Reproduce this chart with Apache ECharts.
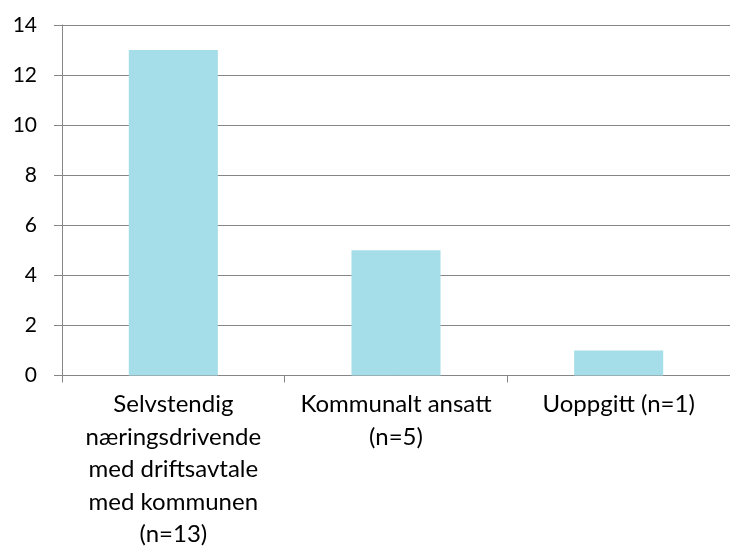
<!DOCTYPE html>
<html>
<head>
<meta charset="utf-8">
<script src="https://cdn.jsdelivr.net/npm/echarts@6/dist/echarts.min.js"></script>
<style>
  html, body { margin: 0; padding: 0; background: #fff; }
  #chart { width: 730px; height: 551px; }
</style>
</head>
<body>
<div id="chart"></div>
<script>
var categories = [
    "Selvstendig\nnæringsdrivende\nmed driftsavtale\nmed kommunen\n(n=13)",
    "Kommunalt ansatt\n(n=5)",
    "Uoppgitt (n=1)"
];
var values = [13, 5, 1];
var yTicks = { min: 0, max: 14, interval: 2 };

var fontName = "Lato, 'Open Sans', sans-serif";
var gridColor = "#868686";

var myChart = echarts.init(document.getElementById("chart"));
myChart.setOption({
    animation: false,
    grid: {
        left: 62,
        right: -2,
        top: 25,
        bottom: 175
    },
    xAxis: {
        type: "category",
        data: categories,
        axisLine: { lineStyle: { color: gridColor, width: 1 } },
        axisTick: { show: true, length: 7, lineStyle: { color: gridColor } },
        axisLabel: {
            color: "#000",
            fontFamily: fontName,
            fontSize: 24,
            lineHeight: 32.5,
            margin: 13,
            interval: 0
        }
    },
    yAxis: {
        type: "value",
        min: yTicks.min,
        max: yTicks.max,
        interval: yTicks.interval,
        axisLine: { show: true, lineStyle: { color: gridColor, width: 1 } },
        axisTick: { show: true, length: 8, lineStyle: { color: gridColor } },
        splitLine: { lineStyle: { color: gridColor, width: 1 } },
        axisLabel: {
            color: "#000",
            fontFamily: fontName,
            fontSize: 21,
            margin: 25
        }
    },
    series: [{
        type: "bar",
        data: values,
        barWidth: "40%",
        itemStyle: { color: "#A5DEE8" }
    }]
});
</script>
</body>
</html>
